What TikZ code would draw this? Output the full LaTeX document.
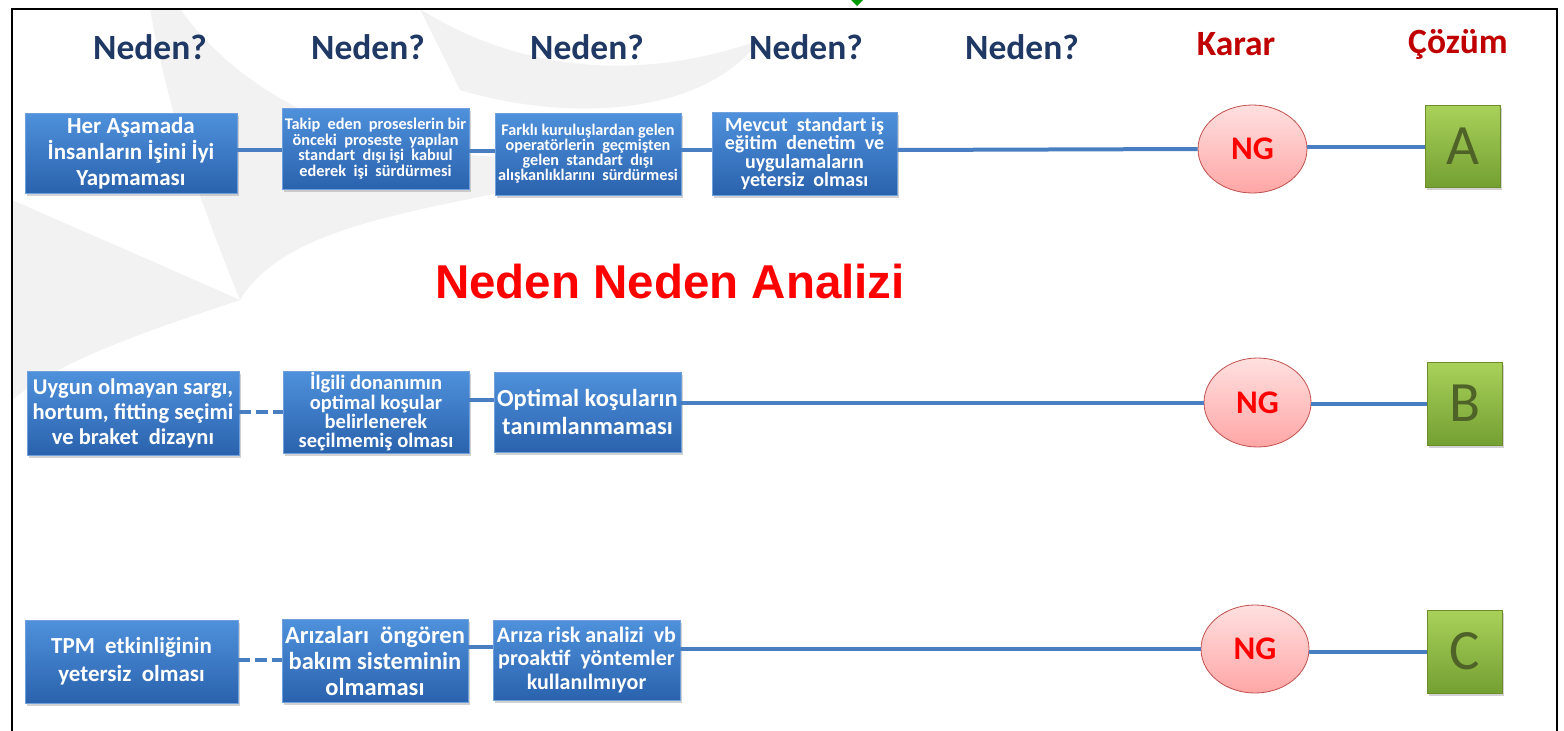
\documentclass[tikz,border=0pt]{standalone}
\usepackage{fontspec}
\setmainfont{Carlito}
\newfontfamily\arialfont{Liberation Sans}
\usetikzlibrary{shadows,shapes.geometric}
\definecolor{hdr}{HTML}{1F3864}
\definecolor{karar}{HTML}{C00000}
\definecolor{boxtop}{HTML}{4F91DC}
\definecolor{boxbot}{HTML}{2A62AD}
\definecolor{boxline}{HTML}{6FA0DC}
\definecolor{conn}{HTML}{4A7EC2}
\definecolor{ngtop}{HTML}{FFE0E0}
\definecolor{ngbot}{HTML}{FFA6A6}
\definecolor{ngline}{HTML}{C0504D}
\definecolor{gtop}{HTML}{A9D15A}
\definecolor{gbot}{HTML}{74A033}
\definecolor{gline}{HTML}{6B8E2A}
\definecolor{gtext}{HTML}{4F6228}
\definecolor{wm}{HTML}{F2F2F2}
\tikzset{
  hdrtext/.style={font=\fontsize{35.5}{38}\selectfont\bfseries, text=hdr},
  kararText/.style={font=\fontsize{35.5}{38}\selectfont\bfseries, text=karar},
  bluebox/.style={draw=boxline, line width=0.8pt, top color=boxtop, bottom color=boxbot,
    text=white, align=center, inner sep=0pt, rectangle,
    drop shadow={opacity=0.35, shadow xshift=2pt, shadow yshift=-3pt}},
  ngnode/.style={ellipse, draw=ngline, line width=0.8pt, top color=ngtop, bottom color=ngbot,
    text=red, font=\fontsize{33}{36}\selectfont\bfseries, inner sep=0pt},
  solbox/.style={draw=gline, line width=0.8pt, top color=gtop, bottom color=gbot,
    text=gtext, font=\fontsize{57}{60}\selectfont, inner sep=0pt,
    drop shadow={opacity=0.35, shadow xshift=2pt, shadow yshift=-3pt}},
  connline/.style={draw=conn, line width=4pt},
  dashline/.style={draw=conn, line width=4pt, dash pattern=on 12pt off 5pt}
}
\begin{document}
\begin{tikzpicture}[x=1pt,y=-1pt]
\useasboundingbox (0,0) rectangle (1564,731);
\fill[white] (0,0) rectangle (1564,731);
% faint watermark
\fill[wm] (180,9) .. controls (260,120) and (420,180) .. (640,150) .. controls (520,210) and (300,200) .. (240,300) .. controls (200,200) and (170,120) .. (150,9) -- cycle;
\fill[wm] (12,200) .. controls (80,230) and (150,260) .. (240,300) .. controls (150,330) and (60,360) .. (12,400) -- cycle;
\fill[wm] (420,9) .. controls (500,60) and (620,90) .. (760,40) .. controls (700,120) and (560,120) .. (460,90) -- cycle;
% frame
\draw[line width=1.5pt] (12,745) -- (12,9) -- (1557,9) -- (1557,745);
\fill[green!60!black] (851,0) -- (863,0) -- (857,6) -- cycle;
% headers
\node[hdrtext] (h1) at (150,47) {Neden?};
\node[hdrtext] (h2) at (368,47) {Neden?};
\node[hdrtext] (h3) at (587,47) {Neden?};
\node[hdrtext] (h4) at (806,47) {Neden?};
\node[hdrtext] (h5) at (1022,47) {Neden?};
\node[kararText] (h6) at (1236,44) {Karar};
\node[kararText] (h7) at (1458,44) {Çözüm};
% title
\node[font=\arialfont\fontsize{47.5}{50}\selectfont\bfseries, text=red] (title) at (670,282) {Neden Neden Analizi};
% row 1
\node[bluebox, minimum width=212pt, minimum height=80pt, font=\fontsize{23}{26}\selectfont\bfseries] (b11) at (131,153) {Her Aşamada\\İnsanların İşini İyi\\Yapmaması};
\node[bluebox, minimum width=187pt, minimum height=81pt, font=\fontsize{16.3}{15.7}\selectfont\bfseries] (b12) at (375.5,148.5) {Takip\ \ eden\ \ proseslerin bir\\önceki\ \ proseste\ \ yapılan\\standart\ \ dışı işi\ \ kabıul\\ederek\ \ işi\ \ sürdürmesi};
\node[bluebox, minimum width=186pt, minimum height=82pt, font=\fontsize{16.2}{15}\selectfont\bfseries] (b13) at (588,154) {Farklı kuruluşlardan gelen\\operatörlerin\ \ geçmişten\\gelen\ \ standart\ \ dışı\\alışkanlıklarını\ \ sürdürmesi};
\node[bluebox, minimum width=185pt, minimum height=83pt, font=\fontsize{20}{18.5}\selectfont\bfseries] (b14) at (804.5,153.5) {Mevcut\ \ standart iş\\eğitim\ \ denetim\ \ ve\\uygulamaların\\yetersiz\ \ olması};
\node[ngnode, minimum width=109pt, minimum height=88pt] (ng1) at (1252.5,149) {NG};
\node[solbox, minimum width=75pt, minimum height=82pt] (s1) at (1462.5,146) {A};
% row 2
\node[bluebox, minimum width=212pt, minimum height=84pt, font=\fontsize{22.5}{25}\selectfont\bfseries] (b21) at (133,413) {Uygun olmayan sargı,\\hortum, fitting seçimi\\ve braket\ \ dizaynı};
\node[bluebox, minimum width=186pt, minimum height=82pt, font=\fontsize{20.5}{19.3}\selectfont\bfseries] (b22) at (376,412) {İlgili donanımın\\optimal koşular\\belirlenerek\\seçilmemiş olması};
\node[bluebox, minimum width=187pt, minimum height=80pt, font=\fontsize{24.5}{28}\selectfont\bfseries] (b23) at (587.5,412) {Optimal koşuların\\tanımlanmaması};
\node[ngnode, minimum width=107pt, minimum height=89pt] (ng2) at (1257.5,402.5) {NG};
\node[solbox, minimum width=75pt, minimum height=83pt] (s2) at (1464.5,403.5) {B};
% row 3
\node[bluebox, minimum width=213pt, minimum height=83pt, font=\fontsize{23}{28}\selectfont\bfseries] (b31) at (131.5,661.5) {TPM\ \ etkinliğinin\\yetersiz\ \ olması};
\node[bluebox, minimum width=186pt, minimum height=83pt, font=\fontsize{24.5}{26}\selectfont\bfseries] (b32) at (375,660.5) {Arızaları\ \ öngören\\bakım sisteminin\\olmaması};
\node[bluebox, minimum width=187pt, minimum height=80pt, font=\fontsize{22}{23.5}\selectfont\bfseries] (b33) at (586.5,660) {Arıza risk analizi\ \ vb\\proaktif\ \ yöntemler\\kullanılmıyor};
\node[ngnode, minimum width=108pt, minimum height=88pt] (ng3) at (1255,649) {NG};
\node[solbox, minimum width=75pt, minimum height=83pt] (s3) at (1464.5,651.5) {C};
% connectors row 1
\draw[connline] (b11.east |- 0,150) -- (b12.west |- 0,150);
\draw[connline] (b12.east |- 0,151) -- (b13.west |- 0,151);
\draw[connline] (b13.east |- 0,150) -- (b14.west |- 0,150);
\draw[connline] (b14.east |- 0,150) -- (ng1.west);
\draw[connline] (ng1.east |- 0,147) -- (s1.west |- 0,147);
% connectors row 2
\draw[dashline] (b21.east |- 0,412) -- (b22.west |- 0,412);
\draw[connline] (b22.east |- 0,400) -- (b23.west |- 0,400);
\draw[connline] (b23.east |- ng2.west) -- (ng2.west);
\draw[connline] (ng2.east |- s2.west) -- (s2.west);
% connectors row 3
\draw[dashline] (b31.east |- 0,660) -- (b32.west |- 0,660);
\draw[connline] (b32.east |- 0,647) -- (b33.west |- 0,647);
\draw[connline] (b33.east |- ng3.west) -- (ng3.west);
\draw[connline] (ng3.east |- s3.west) -- (s3.west);
\end{tikzpicture}
\end{document}
